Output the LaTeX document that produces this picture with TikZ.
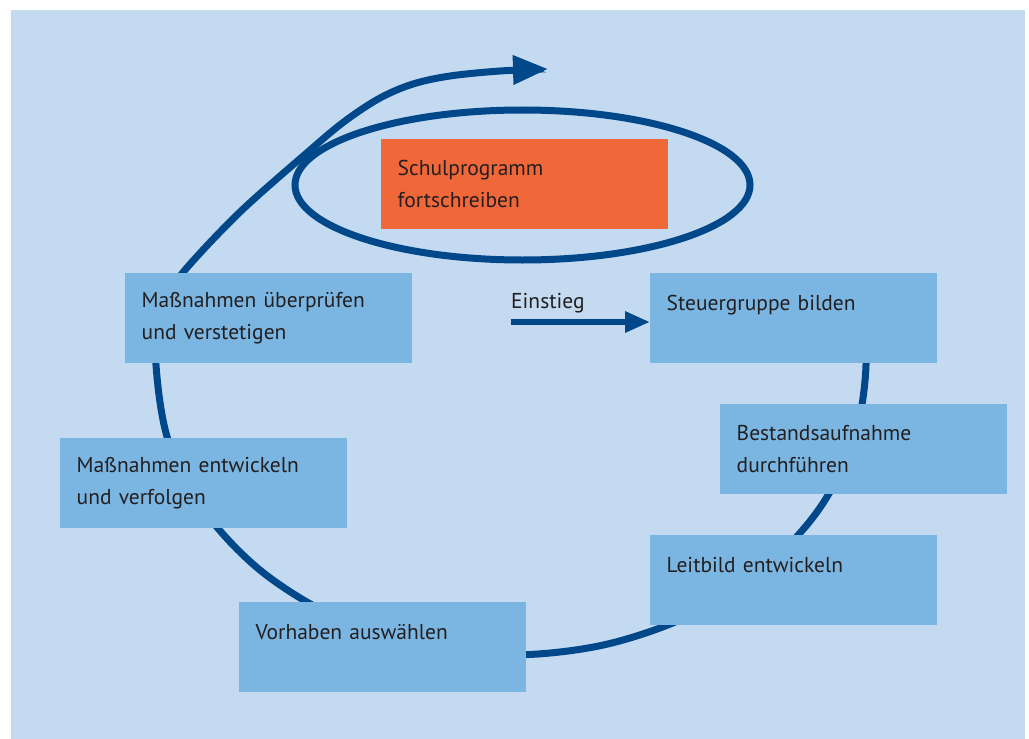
\documentclass[tikz,border=0pt]{standalone}
\usepackage{fontspec}
\setmainfont{PT Sans}
\usetikzlibrary{arrows.meta}
\definecolor{bgc}{RGB}{196,218,240}
\definecolor{boxc}{RGB}{123,182,226}
\definecolor{darkc}{RGB}{0,72,138}
\definecolor{orangec}{RGB}{240,103,58}
\definecolor{txtc}{RGB}{35,31,32}
\tikzset{
  stepbox/.style={rectangle, fill=boxc, anchor=north west, minimum width=287bp, minimum height=90bp,
    text width=254bp, inner xsep=16.5bp, inner ysep=0pt, align=left, text=txtc,
    font=\fontsize{21.5bp}{31.5bp}\selectfont},
  hotbox/.style={stepbox, fill=orangec},
  loop/.style={draw=darkc, line width=7bp},
}
\begin{document}
\begin{tikzpicture}[x=1bp,y=-1bp]
\useasboundingbox (0,0) rectangle (1029,739);
\fill[bgc] (11,10) rectangle (1025,739);
% small ellipse around Schulprogramm
\draw[loop] (522.5,185) ellipse [x radius=227.5bp, y radius=75bp];
% big spiral
\draw[loop, -{Triangle[length=35bp,width=28bp]}] plot[smooth, tension=0.55] coordinates {
 (858.2,304.7) (866,365) (853.9,440.1) (818.4,510) (762.0,570.1) (688.5,616.1)
 (602.9,645.1) (511,655) (419.1,645.1) (333.5,616.1) (260,570.1) (203.6,510)
 (168.1,440.1) (156,365) (160,325) (170,295) (185,270) (240,212) (309,151)
 (345,121) (380,98) (413,84) (450,76) (500,71) (548,69)};
% boxes
\node[hotbox] (prog) at (381,139) {Schulprogramm\\fortschreiben};
\node[stepbox] (pruef) at (125,273) {Maßnahmen überprüfen\\und verstetigen};
\node[stepbox] (steuer) at (650,273) {Steuergruppe bilden\\~};
\node[stepbox] (bestand) at (720,404) {Bestandsaufnahme\\durchführen};
\node[stepbox] (entw) at (60,438) {Maßnahmen entwickeln\\und verfolgen};
\node[stepbox] (leit) at (650,535) {Leitbild entwickeln\\~};
\node[stepbox] (vorh) at (239,602) {Vorhaben auswählen\\~};
% Einstieg arrow
\coordinate (einA) at (511,322);
\draw[draw=darkc, line width=6bp, -{Triangle[length=25bp,width=20bp]}] (einA) -- (steuer.west |- einA);
\node[anchor=base west, inner sep=0pt, text=txtc, font=\fontsize{21.5bp}{31.5bp}\selectfont] (ein) at (511,308) {Einstieg};
\end{tikzpicture}
\end{document}
